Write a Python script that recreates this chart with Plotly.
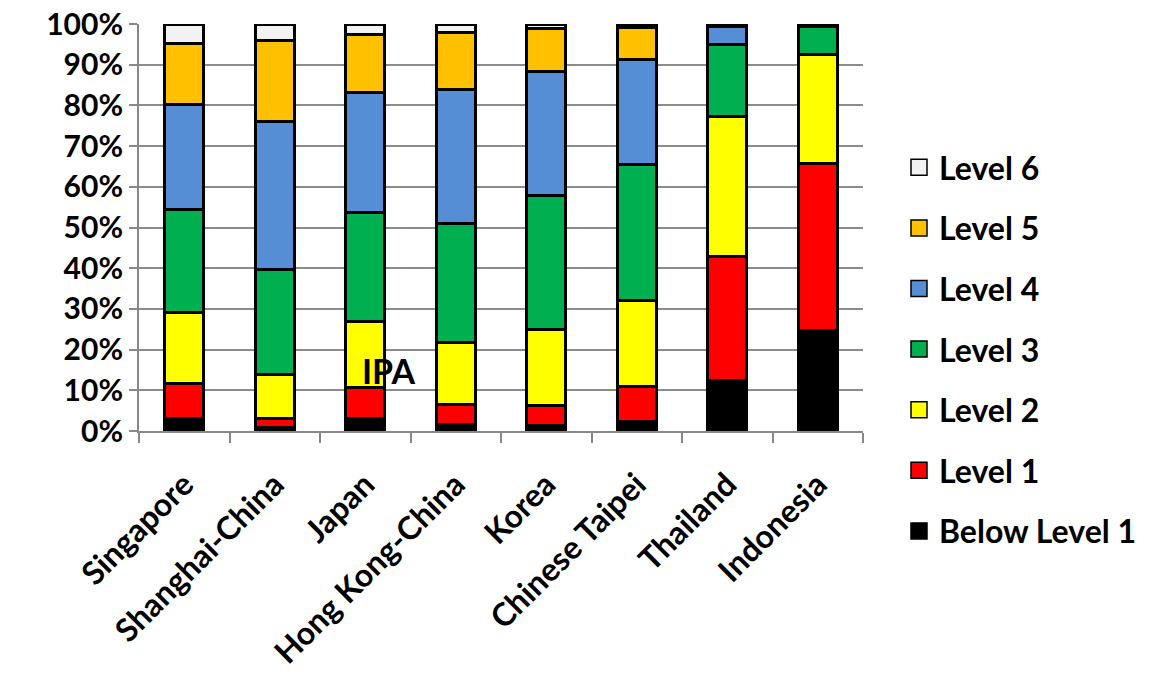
import plotly.graph_objects as go

countries = ["Singapore", "Shanghai-China", "Japan", "Hong Kong-China", "Korea",
             "Chinese Taipei", "Thailand", "Indonesia"]
below_level1 = [3.0, 0.8, 3.1, 1.6, 1.4, 2.4, 12.4, 24.7]
level1 = [8.6, 2.3, 7.5, 4.9, 4.9, 8.5, 30.5, 41.1]
level2 = [17.4, 10.7, 16.4, 15.2, 18.6, 21.2, 34.4, 26.7]
level3 = [25.4, 25.8, 26.6, 29.4, 33.0, 33.4, 17.7, 7.0]
level4 = [25.8, 36.4, 29.6, 32.7, 30.5, 25.8, 4.5, 0.4]
level5 = [15.1, 20.0, 14.3, 14.1, 10.5, 7.9, 0.4, 0.1]
level6 = [4.7, 4.0, 2.5, 2.1, 1.1, 0.8, 0.1, 0.0]

series = [
    ("Below Level 1", below_level1, "#000000"),
    ("Level 1", level1, "#FF0000"),
    ("Level 2", level2, "#FFFF00"),
    ("Level 3", level3, "#00B050"),
    ("Level 4", level4, "#558ED5"),
    ("Level 5", level5, "#FFC000"),
    ("Level 6", level6, "#F2F2F2"),
]

y_ticks = [0, 10, 20, 30, 40, 50, 60, 70, 80, 90, 100]
y_tick_labels = [f"{v}%" for v in y_ticks]

FONT = "Lato"
YTICK_SIZE = 30
XTICK_SIZE = 32
LEGEND_SIZE = 32

# plot area in page pixels (body margin removed below)
L, R, T, B = 139, 863, 24, 431
W, H = 1169, 677

fig = go.Figure()
n = len(series)
for i, (name, vals, color) in enumerate(series):
    fig.add_trace(go.Bar(
        x=countries, y=vals, name=name, showlegend=False,
        marker=dict(color=color, line=dict(color="#000000", width=3)),
    ))
    # legend entry with a larger square symbol
    fig.add_trace(go.Scatter(
        x=[None], y=[None], mode="markers", name=name,
        legendgroup=name, legendrank=n - i,
        marker=dict(symbol="square", size=22, color=color,
                    line=dict(color="#000000", width=1.5)),
    ))

fig.update_layout(
    width=W, height=H,
    barmode="stack", bargap=0.57,
    plot_bgcolor="white", paper_bgcolor="white",
    margin=dict(l=L, r=W - R, t=T, b=H - B, autoexpand=False),
    font=dict(family=FONT, size=YTICK_SIZE, color="black"),
    showlegend=True,
    legend=dict(
        traceorder="grouped", tracegroupgap=16,
        x=(899 - L) / (R - L), xanchor="left",
        y=(B - 140) / (B - T), yanchor="top",
        font=dict(family=FONT, size=LEGEND_SIZE, color="black", weight="bold"),
        itemwidth=30, maxheight=620,
    ),
    annotations=[dict(
        text="<b>IPA</b>",
        x=(388 - L) / (R - L), y=(B - 370) / (B - T),
        xref="paper", yref="paper", xanchor="center", yanchor="middle",
        showarrow=False, font=dict(family=FONT, size=34, color="black"),
    )],
)

fig.update_xaxes(
    showline=True, linecolor="#888888", linewidth=2,
    ticks="outside", tickson="boundaries", ticklen=10, tickcolor="#888888", tickwidth=2,
    tickangle=-45, ticklabelstandoff=20,
    tickfont=dict(family=FONT, size=XTICK_SIZE, color="black", weight="bold"),
    showgrid=False, automargin=True,
)
fig.update_yaxes(
    range=[0, 100], tickvals=y_ticks, ticktext=y_tick_labels,
    showline=True, linecolor="#888888", linewidth=2,
    ticks="outside", ticklen=8, tickcolor="#888888", tickwidth=2,
    showgrid=True, gridcolor="#8c8c8c", gridwidth=1.5,
    tickfont=dict(family=FONT, size=YTICK_SIZE, color="black", weight="bold"),
    zeroline=False, automargin=True,
)

fig.write_html("out.html", config={"displayModeBar": False},
               post_script="document.body.style.margin='0';")
